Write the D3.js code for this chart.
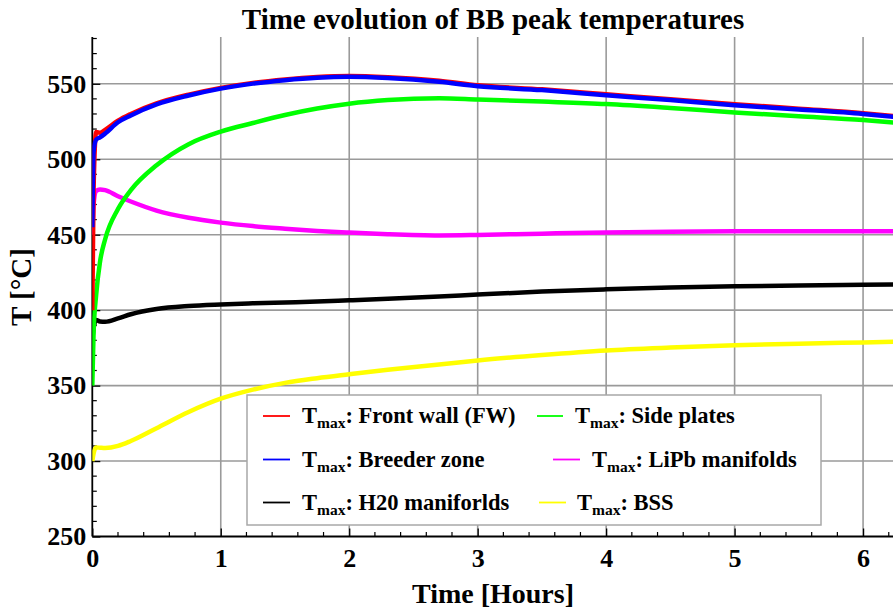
<!DOCTYPE html>
<html><head><meta charset="utf-8">
<script src="https://cdn.jsdelivr.net/npm/d3@7"></script>
<style>
html,body{margin:0;padding:0;background:#fff;}
svg{display:block;}
text{font-family:"Liberation Serif","Times New Roman",serif;font-weight:bold;fill:#000;}
</style></head>
<body>
<svg id="chart" width="893" height="609"></svg>
<script>
// ---- data ----
const timeHours = [0, 0.01, 0.03, 0.06, 0.1, 0.2, 0.3, 0.5, 0.75, 1, 1.25, 1.5, 1.75, 2, 2.3, 2.7, 3, 3.5, 4, 4.5, 5, 5.5, 6, 6.25];
const frontWall   = [400, 480, 518, 517.5, 519.5, 525.5, 530, 537, 542.8, 547.3, 550.6, 552.9, 554.5, 555.2, 554.4, 552, 549, 546.3, 543, 539.7, 536.5, 533.5, 530.5, 528.5];
const breederZone = [455, 505, 513, 514.5, 517, 524.5, 529, 536.3, 542.2, 546.8, 550.1, 552.4, 554, 554.6, 553.8, 551.3, 548.4, 545.8, 542.4, 539.2, 535.8, 533, 530, 528];
const sidePlates  = [350, 385, 410, 432, 447, 467, 479.5, 496, 510, 518.3, 524, 529.3, 533.6, 536.8, 539.2, 540.4, 539.6, 538.2, 536.6, 534, 531, 528.5, 526, 524.3];
const lipbManifolds = [450, 470, 479, 480, 479.5, 475.5, 472, 466, 461.2, 458, 455.7, 454, 452.5, 451.4, 450.3, 449.5, 449.8, 450.7, 451.5, 452, 452.2, 452.3, 452.3, 452.3];
const h2oManifolds = [380, 388, 393.5, 392.5, 392.3, 394.5, 397.3, 400.8, 402.8, 403.8, 404.5, 405.1, 405.7, 406.5, 407.5, 409, 410.3, 412.3, 413.8, 415, 415.8, 416.4, 416.8, 417];
const bss = [300, 305, 309, 308.8, 308.6, 310, 313.3, 321.8, 332.5, 341.3, 347.3, 351.8, 354.9, 357.5, 360.5, 364, 366.7, 370.3, 373.3, 375.2, 376.7, 377.8, 378.6, 379];
const seriesNames = ["Front wall (FW)", "Breeder zone", "H20 maniforlds", "Side plates", "LiPb manifolds", "BSS"];
const xTicks = [0, 1, 2, 3, 4, 5, 6];
const yTicks = [250, 300, 350, 400, 450, 500, 550];

// ---- layout ----
const svg = d3.select("#chart");
const W = 893, H = 609;
const x = d3.scaleLinear().domain([0, 6.233]).range([92.3, 893]);
const y = d3.scaleLinear().domain([250, 581]).range([536.5, 37]);

const series = [
  {name: seriesNames[5], values: bss, color: "#ffff00", lx: 539, lx2: 566, tx: 577, row: 2},
  {name: seriesNames[2], values: h2oManifolds, color: "#000000", lx: 263, lx2: 290, tx: 302, row: 2},
  {name: seriesNames[4], values: lipbManifolds, color: "#ff00ff", lx: 553, lx2: 580, tx: 592, row: 1},
  {name: seriesNames[3], values: sidePlates, color: "#00ff00", lx: 537, lx2: 563, tx: 575, row: 0},
  {name: seriesNames[0], values: frontWall, color: "#ff0000", lx: 263, lx2: 290, tx: 302, row: 0},
  {name: seriesNames[1], values: breederZone, color: "#0000ff", lx: 263, lx2: 290, tx: 302, row: 1}
];

svg.append("defs").append("clipPath").attr("id", "plotclip")
  .append("rect").attr("x", x(0)).attr("y", 30).attr("width", W - x(0)).attr("height", y(250) - 30);

// grid
const grid = svg.append("g").attr("stroke", "#9a9a9a").attr("stroke-width", 1.6);
xTicks.filter(d => d > 0).forEach(d => {
  grid.append("line").attr("x1", x(d)).attr("x2", x(d)).attr("y1", y(581)).attr("y2", y(250));
});
yTicks.filter(d => d > 250).forEach(d => {
  grid.append("line").attr("x1", x(0)).attr("x2", W).attr("y1", y(d)).attr("y2", y(d));
});

// x axis
const xMinor = d3.range(0, 6.3, 0.2).filter(d => Math.abs(d - Math.round(d)) > 1e-6);
const xAxis = svg.append("g").attr("transform", `translate(0,${y(250)})`)
  .call(d3.axisBottom(x).tickValues(xTicks).tickSize(-8).tickFormat(d3.format("d")));
xAxis.select(".domain").attr("stroke", "#000").attr("stroke-width", 1.8).attr("d", `M${x(0)},0H${W}`);
xAxis.selectAll(".tick line").attr("stroke", "#000").attr("stroke-width", 1.3);
xAxis.selectAll(".tick text").attr("y", 12).attr("dy", "0.71em").style("font-size", "26px");
xMinor.forEach(d => xAxis.append("line").attr("x1", x(d)).attr("x2", x(d)).attr("y1", 0).attr("y2", -4.5).attr("stroke", "#000").attr("stroke-width", 1.2));

// y axis
const yMinor = d3.range(250, 581, 10).filter(d => d % 50 !== 0);
const yAxis = svg.append("g").attr("transform", `translate(${x(0)},0)`)
  .call(d3.axisLeft(y).tickValues(yTicks).tickSize(-8).tickFormat(d3.format("d")));
yAxis.select(".domain").attr("stroke", "#000").attr("stroke-width", 1.8).attr("d", `M0,${y(581)}V${y(250)}`);
yAxis.selectAll(".tick line").attr("stroke", "#000").attr("stroke-width", 1.3);
yAxis.selectAll(".tick text").attr("x", -6).style("font-size", "26px");
yMinor.forEach(d => yAxis.append("line").attr("x1", 0).attr("x2", 4.5).attr("y1", y(d)).attr("y2", y(d)).attr("stroke", "#000").attr("stroke-width", 1.2));
yAxis.selectAll("text").attr("font-family", null).attr("font-size", null);
xAxis.selectAll("text").attr("font-family", null).attr("font-size", null);

// lines
const line = d3.line().x((d, i) => x(timeHours[i])).y(d => y(d)).curve(d3.curveMonotoneX);
const plot = svg.append("g").attr("clip-path", "url(#plotclip)");
series.forEach(s => {
  plot.append("path").attr("d", line(s.values)).attr("fill", "none")
    .attr("stroke", s.color).attr("stroke-width", 4.5).attr("stroke-linejoin", "round");
});

// title & labels
svg.append("text").attr("x", 493).attr("y", 29).attr("text-anchor", "middle")
  .style("font-size", "29px").text("Time evolution of BB peak temperatures");
svg.append("text").attr("x", 493).attr("y", 603).attr("text-anchor", "middle")
  .style("font-size", "28px").text("Time [Hours]");
svg.append("text").attr("transform", "translate(31,287) rotate(-90)").attr("text-anchor", "middle")
  .style("font-size", "29px").text("T [°C]");

// legend
const leg = svg.append("g");
leg.append("rect").attr("x", 247).attr("y", 395).attr("width", 574).attr("height", 130)
  .attr("fill", "#fff").attr("stroke", "#a8a8a8").attr("stroke-width", 1.5);
const rowY = [416, 459.5, 502.5];
series.forEach(s => {
  const cy = rowY[s.row];
  leg.append("line").attr("x1", s.lx).attr("x2", s.lx2).attr("y1", cy).attr("y2", cy)
    .attr("stroke", s.color).attr("stroke-width", 1.8);
  const t = leg.append("text").attr("x", s.tx).attr("y", cy + 7).style("font-size", "22.5px");
  t.append("tspan").text("T");
  t.append("tspan").attr("dy", 5).style("font-size", "15.5px").text("max");
  t.append("tspan").attr("dy", -5).text(": " + s.name);
});
</script>
</body></html>
